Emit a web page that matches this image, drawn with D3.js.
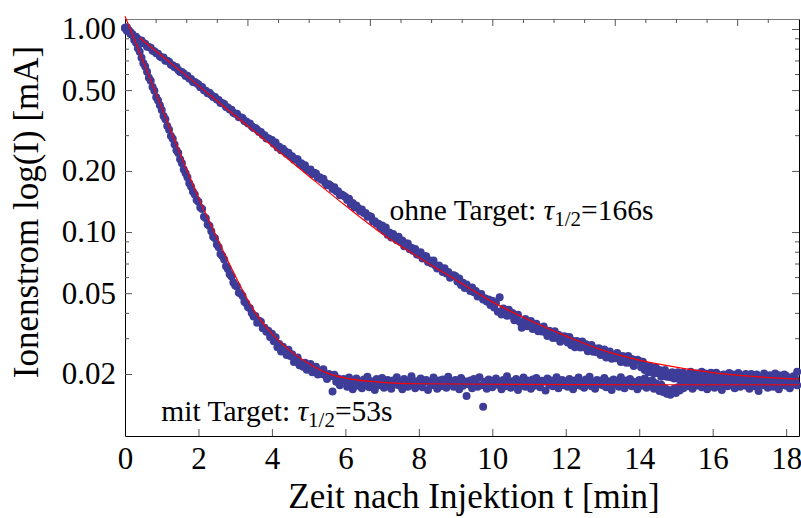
<!DOCTYPE html>
<html>
<head>
<meta charset="utf-8">
<script src="https://cdnjs.cloudflare.com/ajax/libs/d3/7.8.5/d3.min.js"></script>
<style>
body { margin: 0; background: #fff; }
svg text { font-family: "Liberation Serif", "Times New Roman", serif; fill: #000; }
</style>
</head>
<body>
<div id="chart"></div>
<script>
// readings every 0.05 min (3 s), starting at t = 0, one row per minute
var sampleStep = 0.05;

// Ionenstrom [mA], ohne Target
var ohneTarget = [
    1.008, 0.981, 0.985, 0.945, 0.941, 0.912, 0.916, 0.894, 0.875, 0.877, 0.850, 0.845, 0.818, 0.816, 0.808, 0.781, 0.777, 0.760, 0.756, 0.732,
    0.724, 0.723, 0.697, 0.697, 0.689, 0.666, 0.662, 0.648, 0.649, 0.629, 0.614, 0.614, 0.603, 0.586, 0.588, 0.570, 0.567, 0.548, 0.548, 0.541,
    0.533, 0.517, 0.518, 0.499, 0.497, 0.482, 0.485, 0.473, 0.463, 0.463, 0.450, 0.447, 0.432, 0.432, 0.427, 0.413, 0.411, 0.401, 0.400, 0.387,
    0.383, 0.382, 0.368, 0.368, 0.364, 0.352, 0.350, 0.342, 0.342, 0.332, 0.325, 0.325, 0.319, 0.311, 0.311, 0.301, 0.300, 0.289, 0.290, 0.286,
    0.284, 0.272, 0.276, 0.261, 0.263, 0.253, 0.257, 0.251, 0.243, 0.246, 0.237, 0.236, 0.227, 0.229, 0.228, 0.217, 0.218, 0.211, 0.213, 0.203,
    0.201, 0.203, 0.193, 0.196, 0.194, 0.185, 0.186, 0.181, 0.183, 0.175, 0.170, 0.172, 0.169, 0.163, 0.166, 0.159, 0.159, 0.152, 0.153, 0.151,
    0.149, 0.144, 0.146, 0.137, 0.139, 0.132, 0.135, 0.131, 0.127, 0.129, 0.124, 0.124, 0.119, 0.120, 0.119, 0.113, 0.113, 0.110, 0.110, 0.105,
    0.1076, 0.1016, 0.1053, 0.0970, 0.0996, 0.0939, 0.0978, 0.0949, 0.0910, 0.0947, 0.0897, 0.0909, 0.0852, 0.0878, 0.0879, 0.0824, 0.0837, 0.0806, 0.0825, 0.0775,
    0.0772, 0.0796, 0.0740, 0.0763, 0.0760, 0.0712, 0.0725, 0.0701, 0.0724, 0.0685, 0.0661, 0.0684, 0.0666, 0.0636, 0.0664, 0.0625, 0.0636, 0.0595, 0.0613, 0.0612,
    0.0605, 0.0571, 0.0591, 0.0548, 0.0563, 0.0530, 0.0552, 0.0535, 0.0513, 0.0534, 0.0506, 0.0513, 0.0481, 0.0495, 0.0495, 0.0465, 0.0472, 0.0455, 0.0465, 0.0437,
    0.0459, 0.0425, 0.0449, 0.0405, 0.0477, 0.0393, 0.0420, 0.0407, 0.0387, 0.0414, 0.0388, 0.0399, 0.0368, 0.0388, 0.0392, 0.0361, 0.0338, 0.0358, 0.0373, 0.0344,
    0.0346, 0.0365, 0.0333, 0.0351, 0.0354, 0.0325, 0.0336, 0.0324, 0.0343, 0.0321, 0.0308, 0.0327, 0.0318, 0.0301, 0.0325, 0.0301, 0.0312, 0.0288, 0.0304, 0.0307,
    0.0305, 0.0286, 0.0304, 0.0277, 0.0291, 0.0271, 0.0291, 0.0283, 0.0270, 0.0289, 0.0271, 0.0280, 0.0259, 0.0274, 0.0278, 0.0257, 0.0267, 0.0256, 0.0268, 0.0248,
    0.0250, 0.0264, 0.0241, 0.0255, 0.0258, 0.0238, 0.0247, 0.0239, 0.0254, 0.0238, 0.0229, 0.0245, 0.0240, 0.0227, 0.0245, 0.0227, 0.0237, 0.0219, 0.0232, 0.0235,
    0.0232, 0.0216, 0.0230, 0.0209, 0.0219, 0.0204, 0.0218, 0.0211, 0.0201, 0.0215, 0.0202, 0.0209, 0.0194, 0.0206, 0.0209, 0.0194, 0.0201, 0.0193, 0.0204, 0.0190,
    0.0191, 0.0204, 0.0188, 0.0200, 0.0203, 0.0189, 0.0197, 0.0193, 0.0205, 0.0194, 0.0188, 0.0201, 0.0198, 0.0189, 0.0205, 0.0192, 0.0201, 0.0187, 0.0199, 0.0203,
    0.0201, 0.0189, 0.0203, 0.0186, 0.0197, 0.0185, 0.0199, 0.0195, 0.0187, 0.0202, 0.0191, 0.0199, 0.0185, 0.0197, 0.0202, 0.0188, 0.0196, 0.0190, 0.0200, 0.0187,
    0.0187, 0.0200, 0.0184, 0.0196, 0.0199, 0.0185, 0.0193, 0.0189, 0.0201, 0.0190, 0.0184, 0.0197, 0.0194, 0.0185, 0.0201, 0.0188, 0.0197, 0.0183, 0.0195, 0.0199,
    0.0196, 0.0183, 0.0191, 0.0186, 0.0195, 0.0185, 0.0205
];

// Ionenstrom [mA], mit Target
var mitTarget = [
    1.014, 1.020, 0.979, 0.965, 0.938, 0.882, 0.855, 0.804, 0.773, 0.722, 0.678, 0.653, 0.616, 0.576, 0.556, 0.518, 0.496, 0.461, 0.444, 0.421,
    0.399, 0.373, 0.359, 0.333, 0.319, 0.297, 0.288, 0.270, 0.253, 0.245, 0.228, 0.218, 0.203, 0.195, 0.186, 0.174, 0.167, 0.158, 0.153, 0.144,
    0.141, 0.132, 0.130, 0.119, 0.117, 0.109, 0.107, 0.101, 0.0949, 0.0932, 0.0868, 0.0841, 0.0779, 0.0763, 0.0733, 0.0678, 0.0658, 0.0619, 0.0604, 0.0564,
    0.0545, 0.0540, 0.0503, 0.0498, 0.0484, 0.0454, 0.0446, 0.0426, 0.0422, 0.0399, 0.0384, 0.0386, 0.0358, 0.0366, 0.0362, 0.0336, 0.0338, 0.0323, 0.0327, 0.0304,
    0.0316, 0.0290, 0.0303, 0.0271, 0.0281, 0.0258, 0.0272, 0.0263, 0.0248, 0.0263, 0.0245, 0.0250, 0.0229, 0.0240, 0.0241, 0.0221, 0.0227, 0.0217, 0.0227, 0.0210,
    0.0212, 0.0224, 0.0204, 0.0215, 0.0217, 0.0199, 0.0206, 0.0200, 0.0211, 0.0197, 0.0189, 0.0200, 0.0195, 0.0164, 0.0198, 0.0183, 0.0190, 0.0176, 0.0187, 0.0189,
    0.0186, 0.0173, 0.0192, 0.0179, 0.0168, 0.0185, 0.0190, 0.0175, 0.0182, 0.0170, 0.0188, 0.0178, 0.0194, 0.0172, 0.0184, 0.0180, 0.0167, 0.0189, 0.0176, 0.0183,
    0.0191, 0.0171, 0.0181, 0.0187, 0.0174, 0.0169, 0.0186, 0.0179, 0.0193, 0.0176, 0.0183, 0.0168, 0.0189, 0.0180, 0.0173, 0.0185, 0.0195, 0.0177, 0.0170, 0.0184,
    0.0178, 0.0190, 0.0172, 0.0183, 0.0187, 0.0167, 0.0181, 0.0176, 0.0192, 0.0179, 0.0169, 0.0186, 0.0174, 0.0188, 0.0182, 0.0171, 0.0194, 0.0177, 0.0184, 0.0173,
    0.0187, 0.0180, 0.0168, 0.0191, 0.0175, 0.0184, 0.0156, 0.0178, 0.0186, 0.0170, 0.0189, 0.0181, 0.0173, 0.0193, 0.0176, 0.0138, 0.0183, 0.0169, 0.0188, 0.0179,
    0.0172, 0.0185, 0.0190, 0.0177, 0.0182, 0.0168, 0.0187, 0.0174, 0.0195, 0.0180, 0.0171, 0.0184, 0.0178, 0.0189, 0.0167, 0.0183, 0.0176, 0.0192, 0.0173, 0.0186,
    0.0181, 0.0169, 0.0188, 0.0175, 0.0191, 0.0179, 0.0172, 0.0185, 0.0183, 0.0166, 0.0190, 0.0177, 0.0186, 0.0174, 0.0182, 0.0193, 0.0170, 0.0180, 0.0187, 0.0176,
    0.0184, 0.0173, 0.0189, 0.0180, 0.0168, 0.0186, 0.0177, 0.0192, 0.0175, 0.0183, 0.0171, 0.0188, 0.0179, 0.0194, 0.0174, 0.0182, 0.0169, 0.0187, 0.0178, 0.0185,
    0.0176, 0.0191, 0.0172, 0.0184, 0.0181, 0.0167, 0.0188, 0.0178, 0.0185, 0.0173, 0.0193, 0.0180, 0.0170, 0.0186, 0.0177, 0.0189, 0.0174, 0.0183, 0.0179, 0.0168,
    0.0187, 0.0175, 0.0182, 0.0190, 0.0171, 0.0184, 0.0178, 0.0186, 0.0169, 0.0180, 0.0173, 0.0165, 0.0177, 0.0163, 0.0170, 0.0160, 0.0167, 0.0158, 0.0164, 0.0169,
    0.0161, 0.0172, 0.0166, 0.0178, 0.0170, 0.0181, 0.0174, 0.0186, 0.0177, 0.0169, 0.0183, 0.0175, 0.0189, 0.0179, 0.0172, 0.0185, 0.0180, 0.0168, 0.0187, 0.0176,
    0.0182, 0.0171, 0.0189, 0.0178, 0.0185, 0.0167, 0.0180, 0.0192, 0.0174, 0.0183, 0.0176, 0.0188, 0.0170, 0.0181, 0.0186, 0.0173, 0.0179, 0.0191, 0.0175, 0.0184,
    0.0169, 0.0180, 0.0187, 0.0174, 0.0183, 0.0165, 0.0178, 0.0190, 0.0176, 0.0185, 0.0171, 0.0182, 0.0188, 0.0173, 0.0179, 0.0186, 0.0168, 0.0181, 0.0177, 0.0184,
    0.0175, 0.0186, 0.0170, 0.0182, 0.0178, 0.0189, 0.0176
];

var fitOhneTimes  = [0.4, 1, 2, 3, 4, 5, 6, 7, 8, 9, 10, 11, 12, 13, 14, 15, 16, 17, 18.35];
var fitOhneValues = [0.905, 0.738, 0.526, 0.374, 0.266, 0.189, 0.135, 0.0982, 0.0750, 0.0582,
                     0.0453, 0.0369, 0.0308, 0.0262, 0.0234, 0.0216, 0.0203, 0.0195, 0.0189];
var fitMitTimes   = [0, 0.5, 1, 1.5, 2, 2.5, 3, 3.5, 4, 4.5, 5, 5.5, 6, 7, 8, 10, 14, 18.35];
var fitMitValues  = [1.156, 0.689, 0.410, 0.243, 0.148, 0.0942, 0.0610, 0.0414, 0.0316, 0.0260,
                     0.0225, 0.0202, 0.0191, 0.0182, 0.0179, 0.0178, 0.0177, 0.0177];

// ticks
var xTickValues = [0, 2, 4, 6, 8, 10, 12, 14, 16, 18];
var yTickValues = [1, 0.5, 0.2, 0.1, 0.05, 0.02];
var yMinorTicks = [0.9, 0.8, 0.7, 0.6, 0.4, 0.3, 0.09, 0.08, 0.07, 0.06, 0.04, 0.03];
var topMajorSec = [0, 200, 400, 600, 800, 1000];
var topMinorSec = [50, 100, 150, 250, 300, 350, 450, 500, 550, 650, 700, 750, 850, 900, 950, 1050];

var labelOhne = {t: 7.2, v: 0.114, text: "ohne Target: ", rest: "=166s"};
var labelMit  = {t: 0.99, v: 0.0118, text: "mit Target: ", rest: "=53s"};


var margin = {top: 19, right: 2, bottom: 82, left: 125};
var width = 801 - margin.left - margin.right,
    height = 518 - margin.top - margin.bottom;

var svg = d3.select("#chart").append("svg")
    .attr("width", 801)
    .attr("height", 518)
    .append("g")
    .attr("transform", "translate(" + margin.left + "," + margin.top + ")");

var x = d3.scaleLinear().domain([0, 18.35]).range([0, width]);
var xSec = d3.scaleLinear().domain([0, 18.35 * 60]).range([0, width]);
var y = d3.scaleLog().domain([0.0099, 1.12]).range([height, 0]);

function toPoints(values) {
    return values.map(function(v, i) { return [i * sampleStep, v]; });
}

// axes (ticks point inward, like a frame)
svg.append("g")
    .attr("transform", "translate(0," + height + ")")
    .call(d3.axisBottom(x).tickValues(xTickValues).tickFormat(d3.format("d"))
        .tickSizeInner(-7).tickSizeOuter(0).tickPadding(11));

var gTop = svg.append("g")
    .call(d3.axisTop(xSec).tickValues(topMajorSec).tickFormat("")
        .tickSizeInner(-7).tickSizeOuter(0));
svg.append("g").attr("class", "minor")
    .call(d3.axisTop(xSec).tickValues(topMinorSec).tickFormat("")
        .tickSizeInner(-4).tickSizeOuter(0));

svg.append("g")
    .call(d3.axisLeft(y).tickValues(yTickValues).tickFormat(d3.format(".2f"))
        .tickSizeInner(-7).tickSizeOuter(0).tickPadding(9));
svg.append("g").attr("class", "minor")
    .call(d3.axisLeft(y).tickValues(yMinorTicks).tickFormat("")
        .tickSizeInner(-4).tickSizeOuter(0));

svg.append("g")
    .attr("transform", "translate(" + width + ",0)")
    .call(d3.axisRight(y).tickValues(yTickValues).tickFormat("")
        .tickSizeInner(-7).tickSizeOuter(0));
svg.append("g").attr("class", "minor")
    .attr("transform", "translate(" + width + ",0)")
    .call(d3.axisRight(y).tickValues(yMinorTicks).tickFormat("")
        .tickSizeInner(-4).tickSizeOuter(0));

svg.selectAll(".minor .domain").remove();
svg.selectAll(".tick line").attr("stroke", "#555");
svg.selectAll(".domain").attr("stroke", "#000");
gTop.select(".domain").attr("stroke", "#7a7a7a");
svg.selectAll(".tick text")
    .style("font-family", '"Liberation Serif", "Times New Roman", serif')
    .style("font-size", "31px")
    .attr("fill", "#000");

// data points
var dotColor = "#3d3d99";
[mitTarget, ohneTarget].forEach(function(series) {
    svg.append("g").selectAll("circle")
        .data(toPoints(series))
        .enter().append("circle")
        .attr("cx", function(d) { return x(d[0]); })
        .attr("cy", function(d) { return y(d[1]); })
        .attr("r", 4)
        .attr("fill", dotColor);
});

// fits
var line = d3.line()
    .x(function(d) { return x(d[0]); })
    .y(function(d) { return y(d[1]); })
    .curve(d3.curveMonotoneX);

[[fitOhneTimes, fitOhneValues], [fitMitTimes, fitMitValues]].forEach(function(f) {
    svg.append("path")
        .datum(f[0].map(function(t, i) { return [t, f[1][i]]; }))
        .attr("d", line)
        .attr("fill", "none")
        .attr("stroke", "#ff0000")
        .attr("stroke-width", 1.2);
});

// annotations
[labelOhne, labelMit].forEach(function(l) {
    var txt = svg.append("text")
        .attr("x", x(l.t))
        .attr("y", y(l.v))
        .style("font-size", "29.5px");
    txt.append("tspan").text(l.text);
    txt.append("tspan").style("font-style", "italic").text("\u03C4");
    txt.append("tspan").attr("dy", 6).style("font-size", "21px").text("1/2");
    txt.append("tspan").attr("dy", -6).text(l.rest);
});

// axis titles
svg.append("text")
    .attr("x", 349)
    .attr("y", 489)
    .attr("text-anchor", "middle")
    .style("font-size", "35px")
    .text("Zeit nach Injektion t [min]");

svg.append("text")
    .attr("transform", "translate(" + (38 - margin.left) + "," + (212 - margin.top) + ") rotate(-90)")
    .attr("text-anchor", "middle")
    .style("font-size", "35px")
    .text("Ionenstrom log(I) [mA]");
</script>
</body>
</html>
